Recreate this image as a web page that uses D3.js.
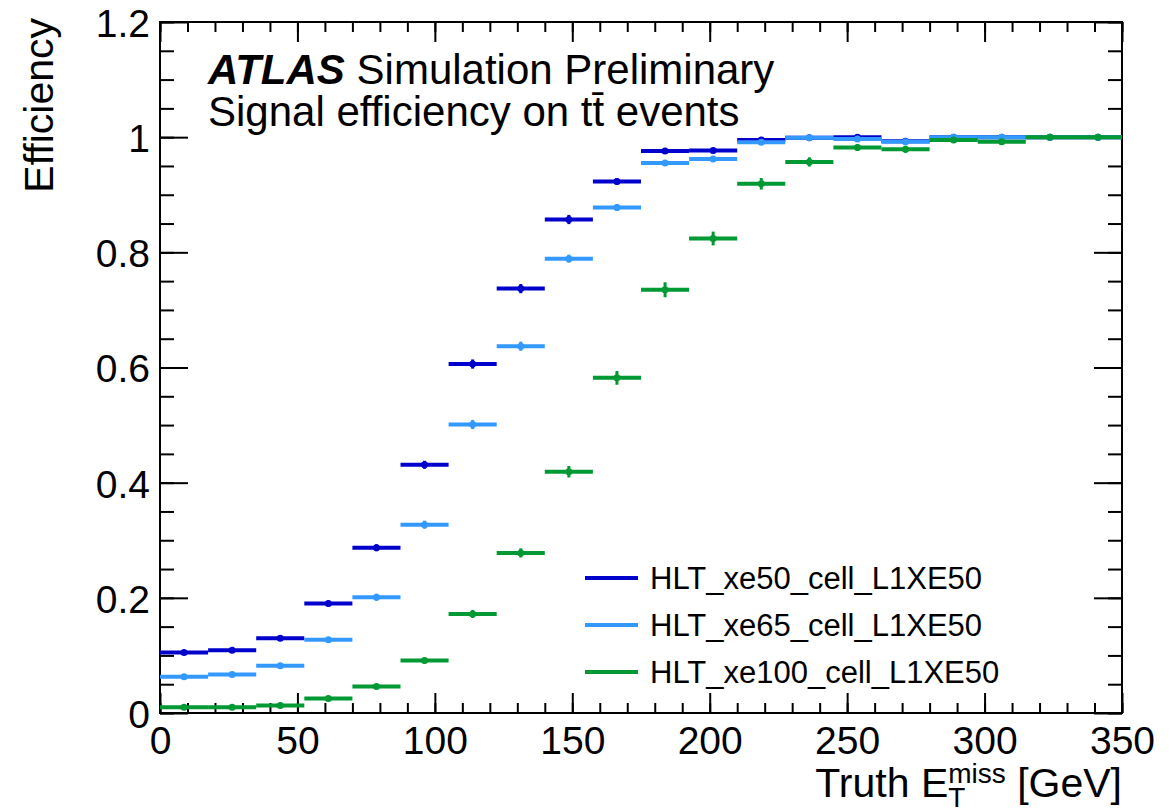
<!DOCTYPE html>
<html>
<head>
<meta charset="utf-8">
<title>Signal efficiency</title>
<script src="https://cdn.jsdelivr.net/npm/d3@7"></script>
<style>
	body { margin: 0; background: #fff; }
	svg text { font-family: "Liberation Sans", Arial, Helvetica, sans-serif; fill: #000; }
	.axis path { display: none; }
	.axis line { stroke: #000; stroke-width: 2px; }
</style>
</head>
<body>
<div id="chart-area"></div>
<script>

// Bin edges of truth E_T^miss [GeV]
var binEdges = [0, 17.5, 35, 52.5, 70, 87.5, 105, 122.5, 140, 157.5, 175,
	192.5, 210, 227.5, 245, 262.5, 280, 297.5, 315, 332.5, 350];

// Efficiency per bin
var effXe50 = [0.105, 0.109, 0.130, 0.190, 0.287, 0.431, 0.606, 0.737, 0.857, 0.923,
	0.976, 0.977, 0.995, 0.999, 1.000, 0.993, 1.000, 1.000, 1.000, 1.000];
var effXe65 = [0.063, 0.067, 0.082, 0.127, 0.201, 0.327, 0.501, 0.637, 0.789, 0.878,
	0.955, 0.962, 0.991, 0.999, 0.997, 0.992, 1.000, 1.000, 1.000, 1.000];
var effXe100 = [0.010, 0.010, 0.013, 0.025, 0.046, 0.091, 0.172, 0.278, 0.419, 0.582,
	0.735, 0.824, 0.919, 0.957, 0.982, 0.979, 0.995, 0.992, 1.000, 1.000];

// Statistical errors
var errXe50 = [0.004, 0.004, 0.004, 0.005, 0.006, 0.007, 0.008, 0.008, 0.008, 0.006,
	0.004, 0.004, 0.002, 0.002, 0.001, 0.002, 0.001, 0.001, 0.001, 0.001];
var errXe65 = [0.003, 0.003, 0.004, 0.005, 0.006, 0.007, 0.008, 0.008, 0.007, 0.006,
	0.005, 0.004, 0.002, 0.002, 0.002, 0.002, 0.001, 0.001, 0.001, 0.001];
var errXe100 = [0.002, 0.002, 0.002, 0.003, 0.004, 0.005, 0.007, 0.008, 0.010, 0.012,
	0.013, 0.012, 0.010, 0.008, 0.006, 0.006, 0.004, 0.004, 0.002, 0.002];

var seriesNames = ["HLT_xe50_cell_L1XE50", "HLT_xe65_cell_L1XE50", "HLT_xe100_cell_L1XE50"];

var xTickValues = [0, 50, 100, 150, 200, 250, 300, 350];
var yTickValues = [0, 0.2, 0.4, 0.6, 0.8, 1, 1.2];
var yTickLabels = ["0", "0.2", "0.4", "0.6", "0.8", "1", "1.2"];

var colorScale = d3.scaleOrdinal()
	.domain(seriesNames)
	.range(["#0000cc", "#3399ff", "#009933"]);


/*
 * EfficiencyPlot - Object constructor function
 * @param _parentElement 	-- the HTML element in which to draw the visualization
 */

EfficiencyPlot = function (_parentElement) {
	this.parentElement = _parentElement;

	var series = [effXe50, effXe65, effXe100];
	var errors = [errXe50, errXe65, errXe100];

	// one record per bin and trigger
	this.data = seriesNames.map(function (name, s) {
		return {
			key: name,
			values: series[s].map(function (v, i) {
				return { lo: binEdges[i], hi: binEdges[i + 1], eff: v, err: errors[s][i] };
			})
		};
	});

	this.initVis();
}


/*
 * Initialize visualization (frame, scales, axes, labels)
 */

EfficiencyPlot.prototype.initVis = function () {
	var vis = this;

	vis.margin = { top: 22, right: 54, bottom: 99, left: 160 };

	vis.width = 1176 - vis.margin.left - vis.margin.right,
	vis.height = 812 - vis.margin.top - vis.margin.bottom;

	vis.root = d3.select("#" + vis.parentElement).append("svg")
		.attr("width", 1176)
		.attr("height", 812);

	vis.svg = vis.root.append("g")
		.attr("transform", "translate(" + vis.margin.left + "," + vis.margin.top + ")");

	vis.x = d3.scaleLinear()
		.domain([binEdges[0], binEdges[binEdges.length - 1]])
		.range([0, vis.width]);

	vis.y = d3.scaleLinear()
		.domain([0, 1.2])
		.range([vis.height, 0]);

	// minor ticks on all four sides (ticks point inward)
	var xMinor = vis.x.ticks(35), yMinor = vis.y.ticks(24);

	vis.svg.append("g").attr("class", "axis")
		.attr("transform", "translate(0," + vis.height + ")")
		.call(d3.axisBottom(vis.x).tickValues(xMinor).tickSize(-10).tickFormat(""));
	vis.svg.append("g").attr("class", "axis")
		.call(d3.axisTop(vis.x).tickValues(xMinor).tickSize(-10).tickFormat(""));
	vis.svg.append("g").attr("class", "axis")
		.call(d3.axisLeft(vis.y).tickValues(yMinor).tickSize(-14).tickFormat(""));
	vis.svg.append("g").attr("class", "axis")
		.attr("transform", "translate(" + vis.width + ",0)")
		.call(d3.axisRight(vis.y).tickValues(yMinor).tickSize(-14).tickFormat(""));

	// major ticks
	vis.xAxis = d3.axisBottom(vis.x)
		.tickValues(xTickValues)
		.tickSize(-20)
		.tickPadding(13)
		.tickFormat(d3.format("d"));

	vis.yAxis = d3.axisLeft(vis.y)
		.tickValues(yTickValues)
		.tickSize(-28)
		.tickPadding(10)
		.tickFormat(function (d, i) { return yTickLabels[i]; });

	vis.svg.append("g")
		.attr("class", "x-axis axis")
		.attr("transform", "translate(0," + vis.height + ")")
		.call(vis.xAxis);
	vis.svg.append("g").attr("class", "axis")
		.call(d3.axisTop(vis.x).tickValues(xTickValues).tickSize(-20).tickFormat(""));

	vis.svg.append("g")
		.attr("class", "y-axis axis")
		.call(vis.yAxis);
	vis.svg.append("g").attr("class", "axis")
		.attr("transform", "translate(" + vis.width + ",0)")
		.call(d3.axisRight(vis.y).tickValues(yTickValues).tickSize(-28).tickFormat(""));

	vis.svg.selectAll(".x-axis text, .y-axis text")
		.style("font-size", "39px")
		.attr("font-family", null);
	vis.svg.selectAll(".y-axis text").attr("dy", "0.37em");

	// frame
	vis.svg.append("rect")
		.attr("width", vis.width)
		.attr("height", vis.height)
		.attr("fill", "none")
		.attr("stroke", "#000")
		.attr("stroke-width", 2);

	// y label
	vis.root.append("text")
		.attr("text-anchor", "end")
		.attr("transform", "translate(53,18) rotate(-90)")
		.style("font-size", "41px")
		.text("Efficiency");

	// x label: Truth E_T^miss [GeV] as one text, right aligned to the frame
	var xl = vis.root.append("text")
		.attr("y", 797)
		.attr("xml:space", "preserve");
	var t1 = xl.append("tspan").style("font-size", "41px").text("Truth E");
	var sup = xl.append("tspan").attr("dy", -14).style("font-size", "28px").text("miss");
	var sub = xl.append("tspan").attr("dy", 24).style("font-size", "28px").text("T");
	var t3 = xl.append("tspan").attr("dy", -10).style("font-size", "41px").text(" [GeV]");

	var w1 = t1.node().getComputedTextLength(),
		wSup = sup.node().getComputedTextLength(),
		wSub = sub.node().getComputedTextLength(),
		w3 = t3.node().getComputedTextLength();
	var x0 = vis.margin.left + vis.width - (w1 + Math.max(wSup, wSub) + w3);
	t1.attr("x", x0);
	sub.attr("x", x0 + w1);
	t3.attr("x", x0 + w1 + Math.max(wSup, wSub));

	// ATLAS label, two lines in one text
	var title = vis.root.append("text")
		.attr("y", 84)
		.style("font-size", "42px");
	title.append("tspan")
		.attr("x", 208)
		.style("font-weight", "bold")
		.style("font-style", "italic")
		.text("ATLAS");
	title.append("tspan").text(" Simulation Preliminary");
	title.append("tspan")
		.attr("x", 208)
		.attr("dy", 42)
		.text("Signal efficiency on t\u0074\u0304 events");

	// legend
	vis.legend = vis.root.append("g")
		.attr("transform", "translate(585,578)");

	var rows = vis.legend.selectAll(".legend-row")
		.data(seriesNames)
		.enter().append("g")
		.attr("class", "legend-row")
		.attr("transform", function (d, i) { return "translate(0," + (i * 47) + ")"; });

	rows.append("line")
		.attr("x1", 0).attr("x2", 53)
		.attr("stroke", function (d) { return colorScale(d); })
		.attr("stroke-width", 4);

	rows.append("text")
		.attr("x", 65)
		.attr("y", 11)
		.style("font-size", "31px")
		.text(function (d) { return d; });

	vis.updateVis();
}


/*
 * Draw the efficiency points: horizontal bin bars, vertical error bars, markers
 */

EfficiencyPlot.prototype.updateVis = function () {
	var vis = this;

	var groups = vis.svg.selectAll(".series")
		.data(vis.data)
		.enter().append("g")
		.attr("class", "series")
		.attr("fill", function (d) { return colorScale(d.key); })
		.attr("stroke", function (d) { return colorScale(d.key); });

	var points = groups.selectAll(".point")
		.data(function (d) { return d.values; })
		.enter().append("g")
		.attr("class", "point");

	points.append("line")
		.attr("x1", function (d) { return vis.x(d.lo); })
		.attr("x2", function (d) { return vis.x(d.hi); })
		.attr("y1", function (d) { return vis.y(d.eff); })
		.attr("y2", function (d) { return vis.y(d.eff); })
		.attr("stroke-width", 4);

	points.append("line")
		.attr("x1", function (d) { return vis.x((d.lo + d.hi) / 2); })
		.attr("x2", function (d) { return vis.x((d.lo + d.hi) / 2); })
		.attr("y1", function (d) { return vis.y(Math.max(0, d.eff - d.err)); })
		.attr("y2", function (d) { return vis.y(Math.min(1, d.eff + d.err)); })
		.attr("stroke-width", 3);

	points.append("circle")
		.attr("cx", function (d) { return vis.x((d.lo + d.hi) / 2); })
		.attr("cy", function (d) { return vis.y(d.eff); })
		.attr("r", 3.5)
		.attr("stroke", "none");
}

var plot = new EfficiencyPlot("chart-area");

</script>
</body>
</html>
